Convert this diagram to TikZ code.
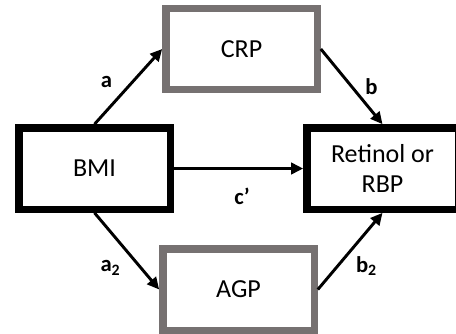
\documentclass[tikz,border=0pt]{standalone}
\usepackage{fontspec}
\setmainfont{Carlito}
\usetikzlibrary{arrows.meta}

\definecolor{boxgray}{RGB}{118,113,113}

\tikzset{every picture/.style={line width=0.75pt}}
\tikzset{
  varbox/.style={draw=black, line width=5.5pt, rectangle, minimum width=113.5pt, minimum height=61pt, inner sep=0pt, align=center, font=\fontsize{19.5}{23}\selectfont},
  medbox/.style={varbox, draw=boxgray},
  path/.style={draw, line width=2.2pt, -{Triangle[length=9pt,width=8.5pt]}},
  coef/.style={inner sep=0pt, font=\fontsize{17}{20}\selectfont\bfseries}
}

\begin{document}
\begin{tikzpicture}[x=0.75pt,y=0.75pt,yscale=-1,xscale=1]
\useasboundingbox (0,0) rectangle (456,333);
\begin{scope}
\clip (0,0) rectangle (456,333);

%Boxes
\node [varbox] (bmi) at (94.5,168.5) {BMI};
\node [varbox] (ret) at (382.5,168.5) {Retinol or\\RBP};
\node [medbox] (crp) at (241.5,49) {CRP};
\node [medbox] (agp) at (238.5,289.5) {AGP};

%Paths
\draw [path] (bmi.north) -- (crp.west);
\draw [path] (crp.east) -- (ret.north);
\draw [path] (bmi.east) -- (ret.west);
\draw [path] (bmi.south) -- (agp.west);
\draw [path] (agp.east) -- (ret.south);

% Text Node
\node [coef] (la) at (106.5,82) {a};
\node [coef] (lb) at (371.5,86.5) {b};
\node [coef] (lc) at (242,196.5) {c’};
\node [coef] (la2) at (110.5,268) {a\textsubscript{2}};
\node [coef] (lb2) at (366.5,266) {b\textsubscript{2}};
\end{scope}
\end{tikzpicture}
\end{document}
